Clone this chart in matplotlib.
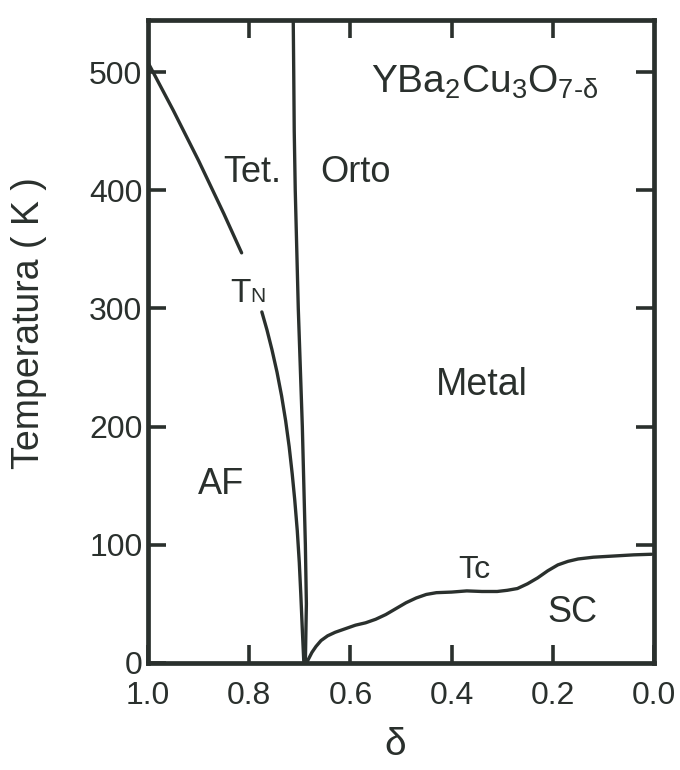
import matplotlib
matplotlib.use("Agg")
import matplotlib.pyplot as plt

plt.rcParams['font.family'] = ['Liberation Sans', 'DejaVu Sans']
plt.rcParams['mathtext.fontset'] = 'custom'
plt.rcParams['mathtext.rm'] = 'Liberation Sans'

INK = '#2a302d'

# Neel temperature, upper branch (above the T_N label) and lower branch
tn_up_delta = [1.000, 0.950, 0.900, 0.850, 0.815]
tn_up_T = [508, 467.5, 425, 380, 347]
tn_lo_delta = [0.775, 0.765, 0.755, 0.745, 0.736, 0.728, 0.721, 0.715,
               0.710, 0.705, 0.701, 0.698, 0.695, 0.692]
tn_lo_T = [297, 282, 265, 246, 226, 205, 183, 160, 138, 112, 85, 58, 28, 0]

# tetragonal / orthorhombic boundary
ort_delta = [0.713, 0.712, 0.711, 0.709, 0.706, 0.703, 0.699, 0.695,
             0.692, 0.689, 0.687, 0.689]
ort_T = [545, 500, 450, 400, 350, 300, 250, 200, 150, 100, 50, 0]

# superconducting Tc
tc_delta = [0.687, 0.682, 0.676, 0.668, 0.658, 0.645, 0.630, 0.610, 0.590,
            0.570, 0.550, 0.530, 0.510, 0.490, 0.470, 0.450, 0.430, 0.400,
            0.370, 0.340, 0.310, 0.290, 0.270, 0.250, 0.230, 0.210, 0.190,
            0.170, 0.150, 0.120, 0.080, 0.040, 0.005]
tc_T = [0, 4, 9, 14, 19, 23, 26, 29, 32, 34, 37, 41, 46, 51, 55, 58, 59.5,
        60, 61, 60.5, 60.5, 61.5, 63, 67, 72, 78, 83, 86, 88, 89.5, 90.5,
        91.5, 92]

x_ticks = [1.0, 0.8, 0.6, 0.4, 0.2, 0.0]
x_ticklabels = ['1.0', '0.8', '0.6', '0.4', '0.2', '0.0']
y_ticks = [0, 100, 200, 300, 400, 500]

fig = plt.figure(figsize=(6.8, 7.7), dpi=100)
ax = fig.add_axes([148/680, 107/770, 506/680, 643/770])

for d, t in [(tn_up_delta, tn_up_T), (tn_lo_delta, tn_lo_T),
             (ort_delta, ort_T), (tc_delta, tc_T)]:
    ax.plot(d, t, color=INK, lw=2.4, solid_capstyle='round',
            solid_joinstyle='round')

ax.set_xlim(1.0, 0.0)
ax.set_ylim(0, 544)

ax.set_xticks(x_ticks)
ax.set_xticklabels(x_ticklabels)
ax.set_yticks(y_ticks)

for s in ax.spines.values():
    s.set_linewidth(3.4)
    s.set_color(INK)

ax.tick_params(axis='both', direction='in', length=13, width=2.6, color=INK,
               labelcolor=INK, labelsize=23)
ax.tick_params(axis='x', pad=13)
ax.tick_params(axis='y', pad=4)

# inner tick marks on top and right edges
top = ax.secondary_xaxis('top')
top.set_xticks([0.8, 0.6, 0.4, 0.2])
top.tick_params(direction='in', length=13, width=2.6, color=INK, labeltop=False)
top.spines['top'].set_visible(False)
right = ax.secondary_yaxis('right')
right.set_yticks([100, 200, 300, 400, 500])
right.tick_params(direction='in', length=13, width=2.6, color=INK, labelright=False)
right.spines['right'].set_visible(False)

ax.set_ylabel('Temperatura ( K )', fontsize=27, color=INK)
ax.yaxis.set_label_coords(-0.2, 0.529)
ax.set_xlabel('δ', fontsize=28, color=INK)
ax.xaxis.set_label_coords(0.488, -0.1)

fs = 26
ax.text(0.335, 491, r'YBa$\mathregular{_2}$Cu$\mathregular{_3}$O$\mathregular{_{7\text{-}δ}}$',
        fontsize=28, color=INK, ha='center', va='center')
ax.text(0.793, 415, 'Tet.', fontsize=fs, color=INK, ha='center', va='center')
ax.text(0.590, 415, 'Orto', fontsize=fs, color=INK, ha='center', va='center')
ax.text(0.797, 305, 'T', fontsize=24, color=INK, ha='right', va='baseline')
ax.text(0.797, 305, 'N', fontsize=15, color=INK, ha='left', va='baseline')
ax.text(0.341, 235, 'Metal', fontsize=27, color=INK, ha='center', va='center')
ax.text(0.856, 151, 'AF', fontsize=fs, color=INK, ha='center', va='center')
ax.text(0.355, 72, 'Tc', fontsize=23, color=INK, ha='center', va='baseline')
ax.text(0.162, 43, 'SC', fontsize=fs, color=INK, ha='center', va='center')

fig.savefig('out.png', dpi=100)
